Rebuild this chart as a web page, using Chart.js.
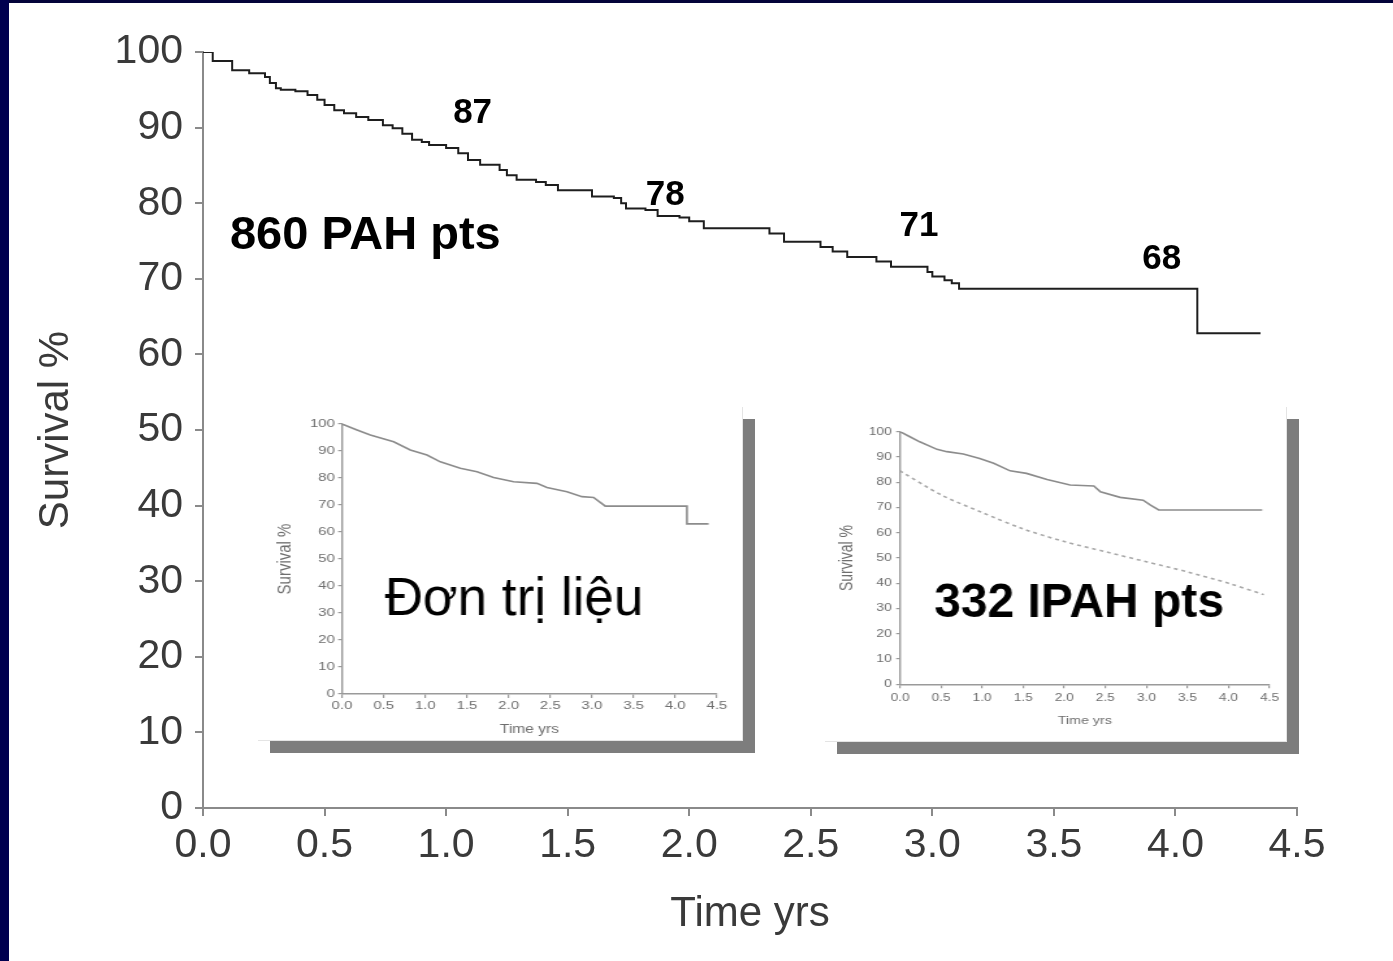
<!DOCTYPE html>
<html><head><meta charset="utf-8">
<script src="https://cdn.jsdelivr.net/npm/chart.js@4.4.0/dist/chart.umd.min.js"></script>
<style>
html,body{margin:0;padding:0;}
body{width:1393px;height:961px;overflow:hidden;background:#fff;position:relative;}
#main{position:absolute;left:0;top:0;}
#frameTop{position:absolute;left:0;top:0;width:1393px;height:3px;background:#03033a;}
#frameLeft{position:absolute;left:0;top:0;width:9px;height:961px;background:#00004f;}
.panel{position:absolute;background:#fff;box-shadow:12px 12px 0 #7d7d7d;border-right:1px solid #e4e4e4;border-bottom:1px solid #e4e4e4;}
.wrap{position:absolute;left:0;top:0;transform-origin:0 0;transform:scaleX(1.3);}
</style></head>
<body>
<canvas id="main" width="1393" height="961"></canvas>
<div class="panel" style="left:258px;top:407px;width:484px;height:333px;"><div class="wrap"><canvas id="inset1" width="372" height="333"></canvas></div></div>
<div class="panel" style="left:825px;top:407px;width:461px;height:334px;"><div class="wrap"><canvas id="inset2" width="355" height="334"></canvas></div></div>
<div id="frameTop"></div><div id="frameLeft"></div>
<script>
// ---------- data ----------
const mainTime = [0, 0.04, 0.12, 0.19, 0.255, 0.275, 0.30, 0.32, 0.38, 0.43, 0.47, 0.50, 0.54, 0.58, 0.63, 0.68, 0.74, 0.78, 0.82, 0.86, 0.90, 0.93, 1.00, 1.05, 1.09, 1.14, 1.22, 1.25, 1.29, 1.37, 1.41, 1.46, 1.60, 1.69, 1.72, 1.74, 1.82, 1.87, 1.96, 2.00, 2.06, 2.33, 2.39, 2.54, 2.59, 2.65, 2.77, 2.83, 2.98, 3.00, 3.05, 3.08, 3.11, 4.09, 4.35];
const mainSurv = [100, 98.8, 97.6, 97.2, 96.7, 95.9, 95.2, 95.0, 94.8, 94.3, 93.7, 93.0, 92.3, 91.9, 91.4, 91.0, 90.3, 89.9, 89.2, 88.4, 88.1, 87.7, 87.3, 86.6, 85.7, 85.1, 84.4, 83.7, 83.1, 82.8, 82.4, 81.7, 80.9, 80.7, 80.0, 79.3, 79.1, 78.3, 78.1, 77.6, 76.7, 76.0, 74.9, 74.2, 73.6, 72.9, 72.3, 71.6, 70.9, 70.3, 69.8, 69.4, 68.7, 62.8, 62.8];

const labelTexts = ['87', '78', '71', '68'];
const labelTime  = [1.109, 1.901, 2.945, 3.944];
const labelSurv  = [90.6, 79.8, 75.6, 71.3];
const mainTitleText = '860 PAH pts';
const mainTitleAt = [0.111, 74.0];

const monoTime = [0, 0.18, 0.34, 0.62, 0.82, 1.02, 1.18, 1.42, 1.62, 1.82, 2.06, 2.34, 2.46, 2.70, 2.88, 3.02, 3.16, 4.14, 4.14, 4.40];
const monoSurv = [100, 97.8, 95.9, 93.4, 90.4, 88.5, 86.0, 83.6, 82.3, 80.2, 78.6, 78.0, 76.5, 74.9, 73.1, 72.8, 69.6, 69.6, 63.0, 63.0];
const monoText = 'Đơn trị liệu';
const monoTextAt = [2.064, 29.3];

const ipahTime = [0, 0.12, 0.24, 0.45, 0.57, 0.77, 0.97, 1.14, 1.34, 1.54, 1.79, 2.07, 2.36, 2.44, 2.68, 2.96, 3.05, 3.15, 4.41];
const ipahSurv = [100, 98.0, 96.0, 93.0, 92.1, 91.2, 89.4, 87.5, 84.5, 83.5, 81.1, 78.9, 78.5, 76.2, 74.0, 72.9, 70.9, 69.0, 69.0];
const predTime = [0, 0.5, 1, 1.5, 2, 2.5, 3, 3.5, 4, 4.43];
const predSurv = [84.5, 75, 68, 61.5, 56.5, 52.5, 48.5, 44.5, 40, 35.5];
const ipahText = '332 IPAH pts';
const ipahTextAt = [2.18, 26.8];

const xTickStep = 0.5, yTickStep = 10;
// ---------------------------

const FONT = "'Liberation Sans', Arial, Helvetica, sans-serif";
const pts = (xs, ys) => xs.map((x, i) => ({x, y: ys[i]}));
const STRETCH = 1.3;

const mainLabels = {
  id: 'mainLabels',
  afterDraw(chart) {
    const {ctx, scales: {x, y}} = chart;
    ctx.save();
    ctx.fillStyle = '#000';
    ctx.textBaseline = 'alphabetic';
    ctx.textAlign = 'center';
    ctx.font = `bold 35px ${FONT}`;
    labelTexts.forEach((t, i) => ctx.fillText(t, x.getPixelForValue(labelTime[i]), y.getPixelForValue(labelSurv[i])));
    ctx.textAlign = 'left';
    ctx.font = `bold 47px ${FONT}`;
    ctx.fillText(mainTitleText, x.getPixelForValue(mainTitleAt[0]), y.getPixelForValue(mainTitleAt[1]));
    ctx.restore();
  }
};

new Chart(document.getElementById('main'), {
  type: 'line',
  data: {datasets: [{data: pts(mainTime, mainSurv), borderColor: '#1e1e1e', borderWidth: 2, pointRadius: 0, stepped: true, fill: false}]},
  options: {
    responsive: false, animation: false, events: [],
    layout: {padding: {left: 10, top: 52, right: 96, bottom: 20}},
    plugins: {legend: {display: false}, tooltip: {enabled: false}},
    scales: {
      x: {type: 'linear', min: 0, max: 4.5,
        ticks: {stepSize: xTickStep, callback: v => v.toFixed(1), font: {family: FONT, size: 41}, color: '#3a3a3a', padding: 5, maxRotation: 0, autoSkip: false},
        grid: {drawOnChartArea: false, drawTicks: true, tickLength: 8, color: '#8a8a8a', lineWidth: 2},
        border: {color: '#8a8a8a', width: 2},
        title: {display: true, text: 'Time yrs', font: {family: FONT, size: 42}, color: '#3a3a3a', padding: {top: 1, bottom: 1}},
        afterFit(s) { s.height = 961 - 20 - 808; }
      },
      y: {min: 0, max: 100,
        ticks: {stepSize: yTickStep, font: {family: FONT, size: 41}, color: '#3a3a3a', padding: 12},
        grid: {drawOnChartArea: false, drawTicks: true, tickLength: 8, color: '#8a8a8a', lineWidth: 2},
        border: {color: '#8a8a8a', width: 2},
        title: {display: true, text: 'Survival %', font: {family: FONT, size: 42}, color: '#3a3a3a', padding: {top: 21, bottom: 0}},
        afterFit(s) { s.width = 193; }
      }
    }
  },
  plugins: [mainLabels]
});

function overlayText(text, at, font) {
  return {
    id: 'overlay',
    afterDraw(chart) {
      const {ctx, scales: {x, y}} = chart;
      ctx.save();
      ctx.translate(x.getPixelForValue(at[0]), y.getPixelForValue(at[1]));
      ctx.scale(1 / STRETCH, 1);
      ctx.fillStyle = '#000';
      ctx.textAlign = 'center';
      ctx.textBaseline = 'alphabetic';
      ctx.font = font;
      ctx.fillText(text, 0, 0);
      ctx.restore();
    }
  };
}

function insetScales(cfg) {
  return {
    x: {type: 'linear', min: 0, max: 4.5,
      ticks: {stepSize: xTickStep, callback: v => v.toFixed(1), font: {family: FONT, size: cfg.tick}, color: '#6e6e6e', padding: cfg.xPad, maxRotation: 0, autoSkip: false},
      grid: {drawOnChartArea: false, drawTicks: true, tickLength: 4, color: '#9a9a9a', lineWidth: 1.2},
      border: {color: '#9a9a9a', width: 1.4},
      title: {display: true, text: 'Time yrs', font: {family: FONT, size: cfg.xt}, color: '#6e6e6e', padding: {top: 0, bottom: cfg.xtPad}},
      afterFit(s) { s.height = cfg.xh; }
    },
    y: {min: 0, max: 100,
      ticks: {stepSize: yTickStep, font: {family: FONT, size: cfg.tick}, color: '#6e6e6e', padding: cfg.yPad},
      grid: {drawOnChartArea: false, drawTicks: true, tickLength: 3, color: '#9a9a9a', lineWidth: 1.2},
      border: {color: '#9a9a9a', width: 1.4},
      title: {display: true, text: 'Survival %', font: {family: FONT, size: cfg.yt}, color: '#6e6e6e', padding: {top: cfg.ytPad, bottom: 0}},
      afterFit(s) { s.width = cfg.yw; }
    }
  };
}

new Chart(document.getElementById('inset1'), {
  type: 'line',
  data: {datasets: [{data: pts(monoTime, monoSurv), borderColor: '#8c8c8c', borderWidth: 1.6, pointRadius: 0, fill: false, tension: 0}]},
  options: {
    responsive: false, animation: false, events: [],
    layout: {padding: {left: 0, top: 17, right: 19, bottom: 2}},
    plugins: {legend: {display: false}, tooltip: {enabled: false}},
    scales: insetScales({tick: 11.5, xPad: 1, yPad: 2.5, xt: 12, xtPad: 1, yt: 15, ytPad: 11.8, xh: 44, yw: 64.6})
  },
  plugins: [overlayText(monoText, monoTextAt, `53px ${FONT}`)]
});

new Chart(document.getElementById('inset2'), {
  type: 'line',
  data: {datasets: [
    {data: pts(ipahTime, ipahSurv), borderColor: '#8c8c8c', borderWidth: 1.6, pointRadius: 0, fill: false, tension: 0},
    {data: pts(predTime, predSurv), borderColor: '#a8a8a8', borderWidth: 1.6, borderDash: [3, 3], pointRadius: 0, fill: false, tension: 0.3}
  ]},
  options: {
    responsive: false, animation: false, events: [],
    layout: {padding: {left: 0, top: 24.7, right: 13, bottom: 2}},
    plugins: {legend: {display: false}, tooltip: {enabled: false}},
    scales: insetScales({tick: 10.5, xPad: 3.8, yPad: 3.4, xt: 11, xtPad: 11.8, yt: 14, ytPad: 8.3, xh: 54.7, yw: 57.7})
  },
  plugins: [overlayText(ipahText, ipahTextAt, `bold 48px ${FONT}`)]
});
</script>
</body></html>
